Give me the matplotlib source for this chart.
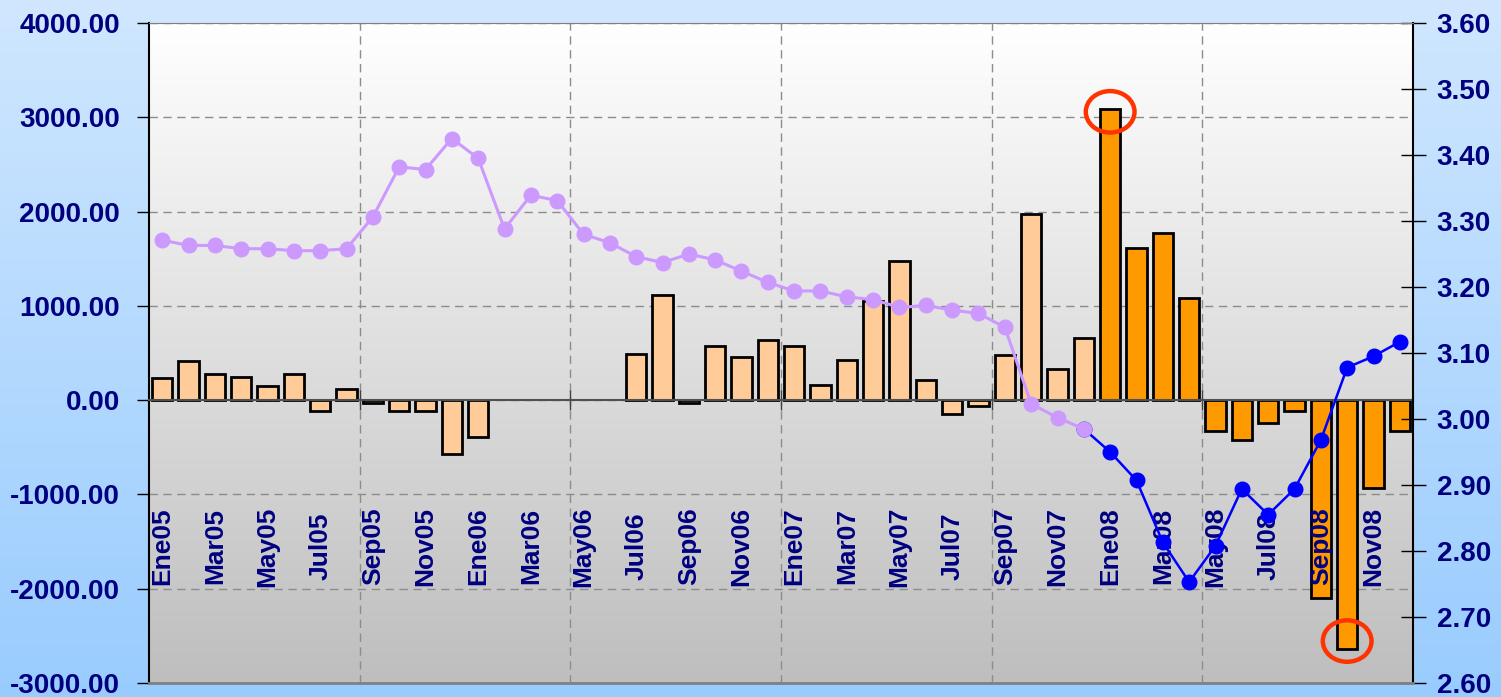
import numpy as np
import matplotlib.pyplot as plt
import matplotlib.transforms as mtransforms
from matplotlib.patches import Ellipse

plt.rcParams['font.family'] = ['Liberation Sans', 'DejaVu Sans']

# --- datos ---
meses = ['Ene', 'Feb', 'Mar', 'Abr', 'May', 'Jun', 'Jul', 'Ago', 'Sep', 'Oct', 'Nov', 'Dic']
anios = ['05', '06', '07', '08']
periodos = [m + a for a in anios for m in meses]

flujo = [240, 420, 275, 245, 155, 275, -117, 120, -30, -117, -117, -570, -390,
         0, 0, 0, 0, 0,
         485, 1110, -30, 573, 456, 633, 573, 159, 421, 1055, 1472, 212, -145, -60,
         482, 1975, 330, 658, 3088, 1618, 1775, 1081, -328, -418, -240, -120,
         -2100, -2640, -930, -328]

tipo = [3.271, 3.263, 3.263, 3.258, 3.258, 3.255, 3.255, 3.258, 3.306, 3.382,
        3.378, 3.425, 3.395, 3.288, 3.339, 3.331, 3.280, 3.267, 3.246, 3.237,
        3.250, 3.241, 3.224, 3.207, 3.194, 3.194, 3.185, 3.181, 3.169, 3.172,
        3.165, 3.160, 3.139, 3.023, 3.002, 2.985, 2.950, 2.907, 2.813, 2.753,
        2.808, 2.894, 2.855, 2.894, 2.968, 3.078, 3.095, 3.117]

corte = 36  # desde Ene08 cambia el color

NAVY = '#000080'
x = np.arange(len(flujo))

fig = plt.figure(figsize=(15.01, 6.97), dpi=100)

# fondo degradado azul
bg = fig.add_axes([0, 0, 1, 1], zorder=-10)
grad = np.linspace(0, 1, 256).reshape(-1, 1)
top_c = np.array([208, 231, 254]) / 255.
bot_c = np.array([153, 204, 255]) / 255.
img = top_c[None, None, :] * (1 - grad[:, :, None]) + bot_c[None, None, :] * grad[:, :, None]
bg.imshow(img, aspect='auto', extent=[0, 1, 0, 1])
bg.axis('off')

ax = fig.add_axes([149 / 1501, 14 / 697, 1264 / 1501, 660 / 697])
# degradado del area de trazado
pa_top = np.array([255, 255, 255]) / 255.
pa_bot = np.array([190, 190, 190]) / 255.
img2 = pa_top[None, None, :] * (1 - grad[:, :, None]) + pa_bot[None, None, :] * grad[:, :, None]
ax.imshow(img2, aspect='auto', extent=[0, 1, 0, 1], transform=ax.transAxes, zorder=0)

colores = ['#FFCC99' if i < corte else '#FF9900' for i in x]
bordes = [0 if v == 0 else 2 for v in flujo]
ax.bar(x, flujo, width=0.76, color=colores, edgecolor='black', linewidth=bordes, zorder=2)

ax.set_xlim(-0.5, len(flujo) - 0.5)
ax.set_ylim(-3000, 4000)
ax.set_yticks(np.arange(-3000, 4001, 1000))
ax.set_yticklabels(['%.2f' % v for v in np.arange(-3000, 4001, 1000)])
ax.tick_params(axis='y', direction='out', length=9, width=1, colors='black',
               labelcolor=NAVY, labelsize=20, pad=12)
for t in ax.get_yticklabels():
    t.set_fontweight('bold')

ax.set_xticks(np.arange(7.5, 47, 8))
ax.set_xticklabels([])
ax.tick_params(axis='x', direction='inout', length=14, width=1, colors='#404040')
ax.spines['bottom'].set_position(('data', 0))
ax.spines['bottom'].set_color('#505050')
ax.spines['bottom'].set_linewidth(1.5)
ax.spines['top'].set_visible(False)
ax.spines['right'].set_visible(False)
ax.spines['left'].set_linewidth(1.5)
ax.set_axisbelow(True)
ax.grid(True, axis='both', linestyle=(0, (6, 4)), color='#8c8c8c', linewidth=1)

# circulos rojos sobre el maximo y el minimo
imax = int(np.argmax(flujo))
imin = int(np.argmin(flujo))
ax.add_patch(Ellipse((imax, flujo[imax] - 30), 1.85, 440,
                     fill=False, edgecolor='#FF3300', linewidth=3.2, zorder=5))
ax.add_patch(Ellipse((imin, flujo[imin] + 85), 1.85, 440,
                     fill=False, edgecolor='#FF3300', linewidth=3.2, zorder=5))

ax2 = ax.twinx()
ax2.set_ylim(2.6, 3.6)
ax2.set_yticks(np.arange(2.6, 3.61, 0.1))
ax2.set_yticklabels(['%.2f' % v for v in np.arange(2.6, 3.61, 0.1)])
ax2.tick_params(axis='y', direction='inout', length=18, width=1, colors='black',
                labelcolor=NAVY, labelsize=20, pad=8)
for t in ax2.get_yticklabels():
    t.set_fontweight('bold')
ax2.spines['left'].set_visible(False)
ax2.spines['right'].set_linewidth(1.5)
ax2.spines['top'].set_color('#808080')
ax2.spines['bottom'].set_color('#808080')
ax2.spines['bottom'].set_linewidth(2)

# etiquetas de periodos dentro del grafico
trans = mtransforms.blended_transform_factory(ax.transData, ax.transAxes)
for i in range(0, len(periodos), 2):
    ax2.text(i, 0.207, periodos[i], transform=trans, rotation=90, ha='center', va='center',
             fontsize=19, fontweight='bold', color=NAVY, zorder=3)

ax2.plot(x[corte - 1:], tipo[corte - 1:], color='#0000FF', linewidth=1.8,
         marker='o', markersize=10.5, zorder=4)
ax2.plot(x[:corte], tipo[:corte], color='#CC99FF', linewidth=2.2,
         marker='o', markersize=10.5, zorder=5)

fig.savefig('out.png', dpi=100)
